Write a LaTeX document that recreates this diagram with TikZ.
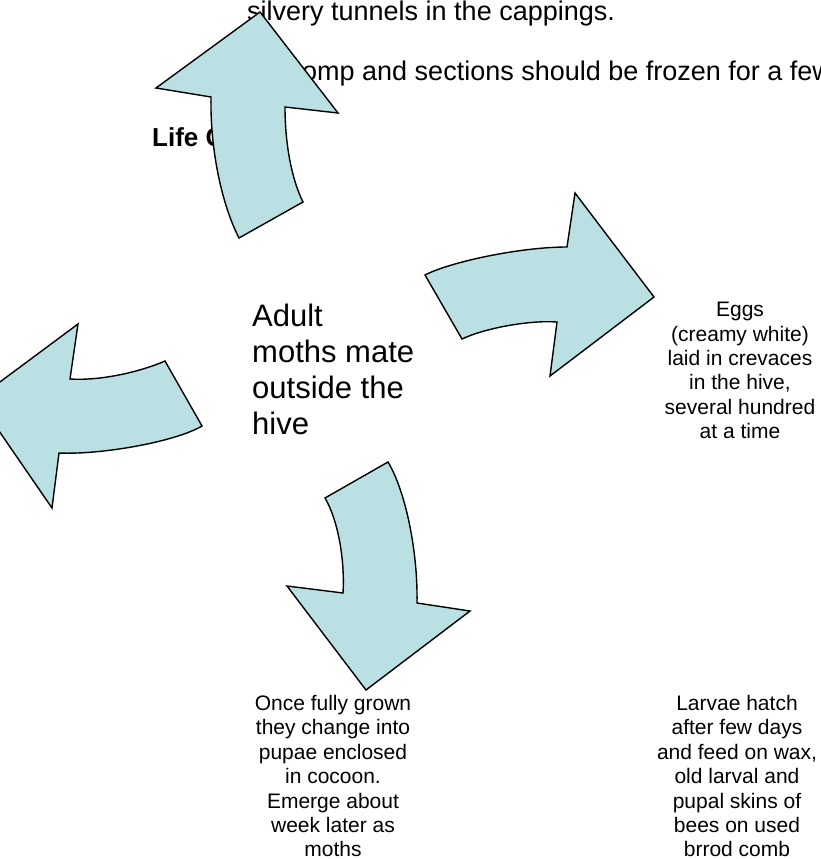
\documentclass[tikz,border=0pt]{standalone}
\usepackage{fontspec}
\setmainfont{Liberation Sans}

\definecolor{arrowfill}{RGB}{186,224,227}
\tikzset{
  cyclearrow/.style={draw=black, line width=1.4pt, fill=arrowfill, line join=miter},
  bodytext/.style={anchor=base west, inner sep=0pt, font=\fontsize{27}{32}\selectfont},
  steptext/.style={anchor=north, inner sep=0pt, align=center, font=\fontsize{21}{24.4}\selectfont},
}

\begin{document}
\begin{tikzpicture}[x=1pt,y=-1pt]
\useasboundingbox (0,0) rectangle (821,859);
\clip (0,0) rectangle (821,859);

% text that the arrows lie over
\node[bodytext] (tunnels) at (247,21) {silvery tunnels in the cappings.};
\node[bodytext] (frozen) at (302,81) {omp and sections should be frozen for a few};
\node[bodytext, font=\fontsize{26}{32}\selectfont\bfseries] (title) at (152,146) {Life C};

\node[anchor=north west, inner sep=0pt, align=left,
    font=\fontsize{31}{36}\selectfont] (adult) at (252,304)
    {Adult\\moths mate\\outside the\\hive};
\node[steptext] (eggs) at (740,302)
    {Eggs\\(creamy white)\\laid in crevaces\\in the hive,\\several hundred\\at a time};
\node[steptext] (larvae) at (737,695)
    {Larvae hatch\\after few days\\and feed on wax,\\old larval and\\pupal skins of\\bees on used\\brrod comb};
\node[steptext] (pupae) at (333,695)
    {Once fully grown\\they change into\\pupae enclosed\\in cocoon.\\Emerge about\\week later as\\moths};

% up arrow
\draw[cyclearrow] (211,97) -- (156,88) -- (260,12) -- (338,113) -- (285,107)
    .. controls (285,145) and (292,180) .. (303,202) -- (239,238)
    .. controls (222,205) and (210,150) .. (211,97) -- cycle;
% right arrow
\draw[cyclearrow] (425,275) .. controls (450,262) and (520,247) .. (567,247)
    -- (575,193) -- (654,297) -- (550,376) -- (557,322)
    .. controls (530,320) and (485,328) .. (462,339) -- cycle;
% left arrow
\draw[cyclearrow] (165,361) .. controls (140,372) and (100,381) .. (70,379)
    -- (78,324) -- (-23,399) -- (52,508) -- (59,453)
    .. controls (100,455) and (175,442) .. (202,426) -- cycle;
% down arrow
\draw[cyclearrow] (325,498) -- (388,462)
    .. controls (405,490) and (418,550) .. (417,603)
    -- (470,611) -- (366,690) -- (287,586) -- (343,593)
    .. controls (345,560) and (338,520) .. (325,498) -- cycle;
\end{tikzpicture}
\end{document}
